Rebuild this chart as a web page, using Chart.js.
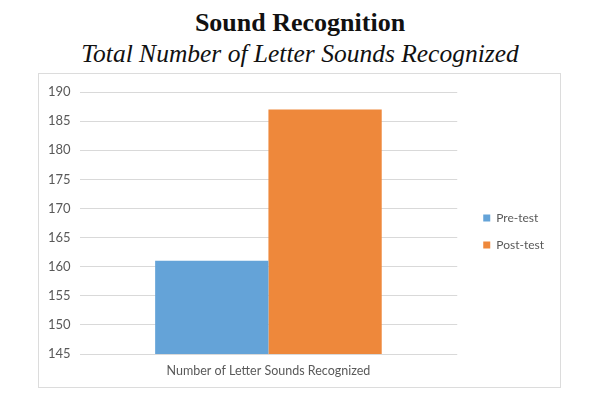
<!DOCTYPE html>
<html>
<head>
<meta charset="utf-8">
<script src="https://cdn.jsdelivr.net/npm/chart.js@4/dist/chart.umd.min.js"></script>
<style>
    body { margin: 0; width: 600px; height: 400px; background: #ffffff; position: relative; overflow: hidden; }
    .title { position: absolute; left: 0; width: 600px; text-align: center; color: #111111; font-family: "Liberation Serif", "DejaVu Serif", serif; }
    #mainTitle { top: 8px; font-size: 26px; font-weight: bold; }
    #subTitle { top: 39px; font-size: 25.5px; font-style: italic; }
    #chartBox { position: absolute; left: 38px; top: 73px; width: 521px; height: 313px; border: 1px solid #dcdcdc; }
</style>
</head>
<body>
<div class="title" id="mainTitle">Sound Recognition</div>
<div class="title" id="subTitle">Total Number of Letter Sounds Recognized</div>
<div id="chartBox"><canvas id="soundChart"></canvas></div>

<script>

const categories = ["Number of Letter Sounds Recognized"];
const seriesNames = ["Pre-test", "Post-test"];
const preTestValues = [161];
const postTestValues = [187];
const yTicks = { min: 145, max: 190, step: 5 };

const seriesColors = ["#64a3d8", "#ee883b"];


// nudge the legend so it sits where the original had it
const legendShift = {
    id: "legendShift",
    afterLayout: (chart) => {
        chart.legend.left += 11;
        chart.legend.right += 11;
        chart.legend.top -= 4;
        chart.legend.bottom -= 4;
    }
};


const drawSoundChart = () => {

    const soundChart = document.getElementById("soundChart");

    new Chart(
        soundChart, {
            type: "bar",
            data: {
                labels: categories,
                datasets: [
                    {
                        label: seriesNames[0],
                        data: preTestValues,
                        backgroundColor: seriesColors[0],
                        borderWidth: 0,
                    },
                    {
                        label: seriesNames[1],
                        data: postTestValues,
                        backgroundColor: seriesColors[1],
                        borderWidth: 0,
                    }
                ]
            },
            options: {
                responsive: true,
                maintainAspectRatio: false,
                animation: false,
                datasets: {
                    bar: {
                        categoryPercentage: 0.6,
                        barPercentage: 1.0
                    }
                },
                layout: {
                    padding: { left: 0, right: 17, top: 18, bottom: 8 }
                },
                plugins: {
                    legend: {
                        position: "right",
                        labels: {
                            boxWidth: 7,
                            boxHeight: 7,
                            padding: 15,
                            color: "#595959",
                            font: { family: "Lato", size: 12 }
                        }
                    },
                    tooltip: { enabled: false }
                },
                scales: {
                    x: {
                        grid: { display: false },
                        border: { display: false },
                        ticks: {
                            color: "#595959",
                            padding: 1,
                            font: { family: "Lato", size: 12.5 }
                        }
                    },
                    y: {
                        min: yTicks.min,
                        max: yTicks.max,
                        border: { display: false },
                        grid: { color: "#d9d9d9", lineWidth: 1, drawTicks: false },
                        ticks: {
                            stepSize: yTicks.step,
                            color: "#595959",
                            padding: 9,
                            font: { family: "Lato", size: 13 }
                        }
                    }
                }
            },
            plugins: [legendShift]
        }
    );

    return;

};


drawSoundChart();

</script>
</body>
</html>
